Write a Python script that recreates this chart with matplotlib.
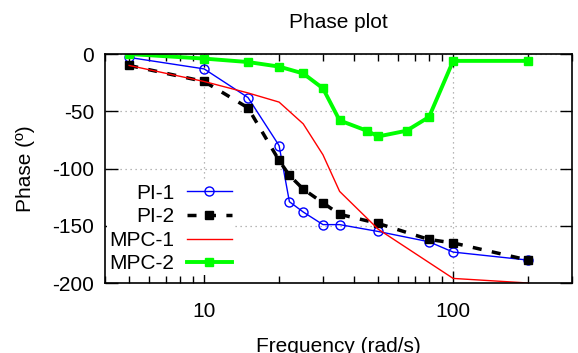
import matplotlib
matplotlib.use("Agg")
import matplotlib.pyplot as plt
from matplotlib.ticker import FixedLocator, FixedFormatter, NullFormatter, LogLocator

plt.rcParams['font.family'] = ['Liberation Sans', 'DejaVu Sans']
plt.rcParams['axes.unicode_minus'] = False

# Réponse en phase des quatre correcteurs
freq_pi1 = [5, 10, 15, 20, 22, 25, 30, 35, 50, 80, 100, 200]
phase_pi1 = [-3, -13, -38, -80, -129, -138, -149, -149, -155, -164, -173, -180]

freq_pi2 = [5, 10, 15, 20, 22, 25, 30, 35, 50, 80, 100, 200]
phase_pi2 = [-10, -24, -47, -93, -106, -118, -130, -140, -148, -162, -165, -180]

freq_mpc1 = [5, 10, 15, 20, 25, 30, 35, 50, 100, 200]
phase_mpc1 = [-10, -24, -34, -42, -61, -88, -120, -153, -196, -200]

freq_mpc2 = [5, 10, 15, 20, 25, 30, 35, 45, 50, 65, 80, 100, 200]
phase_mpc2 = [0, -4, -7, -11, -17, -30, -58, -67, -72, -67, -55, -6, -6]

fs = 15

fig = plt.figure(figsize=(5.78, 3.53), dpi=100)
ax = fig.add_axes([0.1817, 0.1983, 0.8079, 0.6487])

ax.plot(freq_pi1, phase_pi1, color='#0000ff', lw=1.0, marker='o', ms=6.5,
        mfc='none', mec='#0000ff', mew=1.0, label='PI-1')
ax.plot(freq_pi2, phase_pi2, color='black', lw=2.5, dashes=(2.6, 3),
        marker='s', ms=6, mfc='black', mec='black', label='PI-2')
ax.plot(freq_mpc1, phase_mpc1, color='#ff0000', lw=1.0, label='MPC-1')
ax.plot(freq_mpc2, phase_mpc2, color='#00ff00', lw=2.8,
        marker='s', ms=6, mfc='#00ff00', mec='#00ff00', label='MPC-2')

ax.set_xscale('log')
ax.set_xlim(4, 300)
ax.set_ylim(-200, 0)
ax.xaxis.set_major_locator(FixedLocator([10, 100]))
ax.xaxis.set_major_formatter(FixedFormatter(['10', '100']))
ax.xaxis.set_minor_locator(LogLocator(base=10, subs=range(2, 10)))
ax.xaxis.set_minor_formatter(NullFormatter())
ax.set_yticks([0, -50, -100, -150, -200])

ax.tick_params(which='both', direction='in', top=True, right=True,
               labelsize=fs, color='black')
ax.tick_params(axis='x', pad=14)
ax.tick_params(axis='y', pad=8)
ax.tick_params(which='major', length=9, width=1)
ax.tick_params(which='minor', length=5, width=1)
ax.grid(True, which='major', color='#a0a0a0', linestyle=(0, (1, 3)), lw=0.9)
for s in ax.spines.values():
    s.set_linewidth(1.2)

ax.set_title('Phase plot', fontsize=fs, pad=19)
ax.set_xlabel('Frequency (rad/s)', fontsize=fs, labelpad=11)
ax.set_ylabel('Phase (º)', fontsize=fs, labelpad=12)

leg = ax.legend(loc='upper left', bbox_to_anchor=(0.005, 0.443), markerfirst=False,
                fontsize=fs, frameon=True, fancybox=False, handlelength=2.15,
                handletextpad=0.6, labelspacing=0.22, borderaxespad=0.0,
                borderpad=0.1)
leg.get_frame().set_edgecolor('none')
leg.get_frame().set_facecolor('white')
leg.get_frame().set_alpha(1.0)

plt.savefig('out.png', dpi=100)
